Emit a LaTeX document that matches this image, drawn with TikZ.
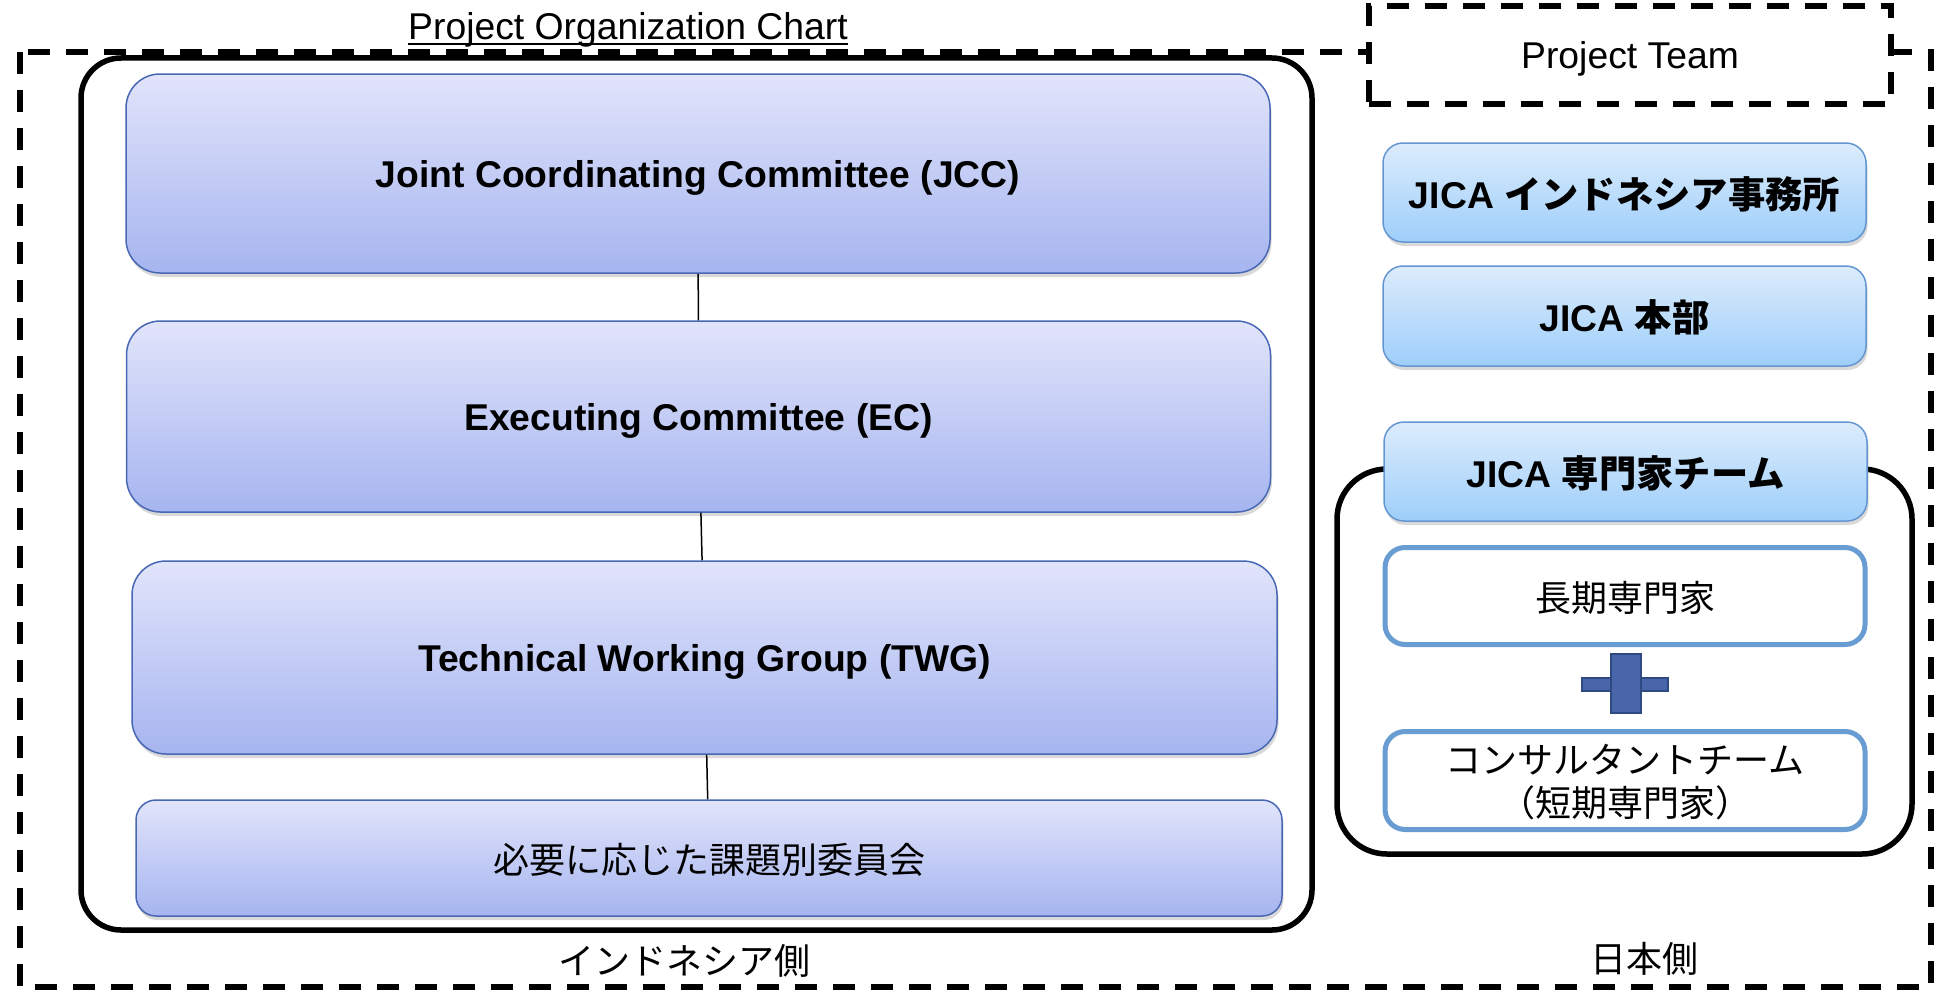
\documentclass[tikz,border=0pt]{standalone}
\usepackage{fontspec}
\setmainfont{Liberation Sans}
\newfontfamily\jp{Noto Sans CJK JP}
\usepackage{tikz}
\usetikzlibrary{shadows}
\definecolor{indotop}{RGB}{225,228,250}
\definecolor{indobot}{RGB}{166,181,240}
\definecolor{indoline}{RGB}{72,104,180}
\definecolor{jicatop}{RGB}{220,236,252}
\definecolor{jicabot}{RGB}{158,206,250}
\definecolor{jicaline}{RGB}{100,150,210}
\definecolor{memberline}{RGB}{104,156,210}
\definecolor{crossfill}{RGB}{74,102,170}
\definecolor{crossline}{RGB}{47,74,130}

\begin{document}
\begin{tikzpicture}[x=1pt,y=-1pt,
  txt/.style={font=\fontsize{37.3}{43}\selectfont,text depth=0pt},
  jptxt/.style={font=\fontsize{36}{43}\selectfont\jp,text depth=0pt},
  boxshadow/.style={drop shadow={shadow xshift=1.5pt,shadow yshift=-4pt,opacity=.3}},
  indobox/.style={txt,draw=indoline,line width=1.5pt,rounded corners=34pt,
    top color=indotop,bottom color=indobot,boxshadow,inner sep=0pt,
    minimum width=1144pt,minimum height=195pt},
  jicabox/.style={txt,draw=jicaline,line width=1.5pt,rounded corners=20pt,
    top color=jicatop,bottom color=jicabot,boxshadow,inner sep=0pt,
    minimum width=483pt,minimum height=99pt},
  memberbox/.style={jptxt,draw=memberline,line width=5pt,rounded corners=20pt,
    fill=white,inner sep=0pt,align=center,
    minimum width=480pt,minimum height=97pt},
  frame/.style={line width=5.5pt,rounded corners=#1},
  outline/.style={line width=5.5pt,dash pattern=on 22pt off 16pt},
  crossbar/.style={fill=crossfill,draw=crossline,line width=2.5pt},
  link/.style={line width=1.5pt}]

  \useasboundingbox (0,0) rectangle (1934,990);

  % outer frame and heading
  \draw[outline] (20,52) rectangle (1931,987);
  \node[txt,inner sep=0pt] (title) at (628,26) {Project Organization Chart};
  \draw[line width=2pt] ([yshift=-4pt]title.base west) -- ([yshift=-4pt]title.base east);
  \node[txt,draw,outline,fill=white,minimum width=522pt,minimum height=98pt] (team) at (1630,55) {Project Team};

  % Indonesian side
  \draw[frame=40pt] (81,58) rectangle (1312,930);
  \node[indobox,minimum height=199pt] (jcc) at (698,173.5) {\bfseries Joint Coordinating Committee (JCC)};
  \node[indobox,minimum height=191pt] (ec) at (698.5,416.5) {\bfseries Executing Committee (EC)};
  \node[indobox,minimum height=193pt,minimum width=1145pt] (twg) at (704.5,657.5) {\bfseries Technical Working Group (TWG)};
  \node[indobox,jptxt,minimum height=116pt,minimum width=1146pt,rounded corners=20pt] (sub) at (709,858) {必要に応じた課題別委員会};

  \draw[link] (jcc) -- (ec);
  \draw[link] (ec) -- (twg);
  \draw[link] (twg) -- (sub);

  \node[jptxt] (indoside) at (684,959) {インドネシア側};

  % Japanese side
  \node[jicabox] (office) at (1624.5,192.5) {\bfseries JICA {\jp\bfseries インドネシア事務所}};
  \node[jicabox,minimum height=100pt] (hq) at (1624.5,316) {\bfseries JICA {\jp\bfseries 本部}};

  \draw[frame=50pt] (1337,469) rectangle (1912,854);
  \node[jicabox] (experts) at (1625.5,471.5) {\bfseries JICA {\jp\bfseries 専門家チーム}};
  \node[memberbox] (longterm) at (1625,596) {長期専門家};
  \node[memberbox,minimum height=98pt] (consult) at (1625,780.5) {コンサルタントチーム\\（短期専門家）};

  \draw[crossbar] (1582,678) rectangle (1668,691);
  \draw[crossbar] (1611,654) rectangle (1641,713);

  \node[jptxt] (jpside) at (1644,957) {日本側};
\end{tikzpicture}
\end{document}
